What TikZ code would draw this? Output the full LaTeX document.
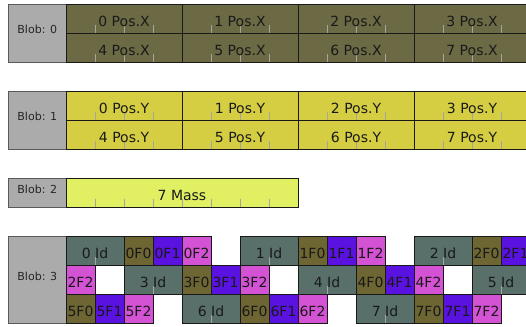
\documentclass[tikz,border=0pt]{standalone}
\usepackage{fontspec}
\setmainfont{DejaVu Sans}
\definecolor{blobgray}{HTML}{ABABAB}
\definecolor{posx}{HTML}{6B6A45}
\definecolor{posy}{HTML}{D5CE43}
\definecolor{mass}{HTML}{E0F062}
\definecolor{idc}{HTML}{587069}
\definecolor{fzero}{HTML}{6D6532}
\definecolor{fone}{HTML}{5A12E0}
\definecolor{ftwo}{HTML}{D452D4}
\definecolor{tickgray}{HTML}{A5A5A0}
\tikzset{
  cellbox/.style={draw=black!90, line width=0.75pt, inner sep=0pt, outer sep=0pt, anchor=north west, minimum height=21.75pt},
  celltext/.style={font=\fontsize{10.5}{12}\selectfont, text=black!90, inner sep=0pt},
  blobbox/.style={draw=black!65, fill=blobgray, line width=0.9pt, anchor=north west, minimum width=43.8pt, inner sep=0pt},
  blobtext/.style={font=\fontsize{8.3}{10}\selectfont, text=black!85, inner sep=0pt},
  tickline/.style={draw=tickgray, line width=0.75pt},
}
% #1 name, #2 x px, #3 y px, #4 units, #5 colour, #6 text
\newcommand\bcell[6]{%
  \node[cellbox, fill=#5, minimum width=#4*21.75pt] (#1) at (#2,#3) {};
  \ifnum#4>1
    \pgfmathtruncatemacro\nmt{#4-1}%
    \foreach \k in {1,...,\nmt}{\draw[tickline] ([xshift=\k*21.75pt]#1.south west) -- ++(0,-8.5);}
  \fi
  \node[celltext] (#1t) at ([yshift=-1.9pt]#1.center) {#6};
}
% #1 name, #2 y px, #3 height px, #4 text
\newcommand\blob[4]{%
  \node[blobbox, minimum height=#3*0.75pt] (#1) at (7.5,#2) {};
  \node[blobtext] (#1t) at ([yshift=3pt]#1.center) {#4};
}
\begin{document}
\begin{tikzpicture}[x=0.75pt, y=-0.75pt]
\clip (0,0) rectangle (526,326);
\fill[white] (0,0) rectangle (526,326);
% Blob 0
\blob{b0}{4}{58}{Blob: 0}
\bcell{px0}{66}{4}{4}{posx}{0 Pos.X}
\bcell{px1}{182}{4}{4}{posx}{1 Pos.X}
\bcell{px2}{298}{4}{4}{posx}{2 Pos.X}
\bcell{px3}{414}{4}{4}{posx}{3 Pos.X}
\bcell{px4}{66}{33}{4}{posx}{4 Pos.X}
\bcell{px5}{182}{33}{4}{posx}{5 Pos.X}
\bcell{px6}{298}{33}{4}{posx}{6 Pos.X}
\bcell{px7}{414}{33}{4}{posx}{7 Pos.X}
% Blob 1
\blob{b1}{91}{58}{Blob: 1}
\bcell{py0}{66}{91}{4}{posy}{0 Pos.Y}
\bcell{py1}{182}{91}{4}{posy}{1 Pos.Y}
\bcell{py2}{298}{91}{4}{posy}{2 Pos.Y}
\bcell{py3}{414}{91}{4}{posy}{3 Pos.Y}
\bcell{py4}{66}{120}{4}{posy}{4 Pos.Y}
\bcell{py5}{182}{120}{4}{posy}{5 Pos.Y}
\bcell{py6}{298}{120}{4}{posy}{6 Pos.Y}
\bcell{py7}{414}{120}{4}{posy}{7 Pos.Y}
% Blob 2
\blob{b2}{178}{29}{Blob: 2}
\bcell{m7}{66}{178}{8}{mass}{7 Mass}
% Blob 3
\blob{b3}{236}{87}{Blob: 3}
% row 1
\bcell{id0}{66}{236}{2}{idc}{0 Id}
\bcell{f00}{124}{236}{1}{fzero}{0F0}
\bcell{f01}{153}{236}{1}{fone}{0F1}
\bcell{f02}{182}{236}{1}{ftwo}{0F2}
\bcell{id1}{240}{236}{2}{idc}{1 Id}
\bcell{f10}{298}{236}{1}{fzero}{1F0}
\bcell{f11}{327}{236}{1}{fone}{1F1}
\bcell{f12}{356}{236}{1}{ftwo}{1F2}
\bcell{id2}{414}{236}{2}{idc}{2 Id}
\bcell{f20}{472}{236}{1}{fzero}{2F0}
\bcell{f21}{501}{236}{1}{fone}{2F1}
% row 2
\bcell{f22}{66}{265}{1}{ftwo}{2F2}
\bcell{id3}{124}{265}{2}{idc}{3 Id}
\bcell{f30}{182}{265}{1}{fzero}{3F0}
\bcell{f31}{211}{265}{1}{fone}{3F1}
\bcell{f32}{240}{265}{1}{ftwo}{3F2}
\bcell{id4}{298}{265}{2}{idc}{4 Id}
\bcell{f40}{356}{265}{1}{fzero}{4F0}
\bcell{f41}{385}{265}{1}{fone}{4F1}
\bcell{f42}{414}{265}{1}{ftwo}{4F2}
\bcell{id5}{472}{265}{2}{idc}{5 Id}
% row 3
\bcell{f50}{66}{294}{1}{fzero}{5F0}
\bcell{f51}{95}{294}{1}{fone}{5F1}
\bcell{f52}{124}{294}{1}{ftwo}{5F2}
\bcell{id6}{182}{294}{2}{idc}{6 Id}
\bcell{f60}{240}{294}{1}{fzero}{6F0}
\bcell{f61}{269}{294}{1}{fone}{6F1}
\bcell{f62}{298}{294}{1}{ftwo}{6F2}
\bcell{id7}{356}{294}{2}{idc}{7 Id}
\bcell{f70}{414}{294}{1}{fzero}{7F0}
\bcell{f71}{443}{294}{1}{fone}{7F1}
\bcell{f72}{472}{294}{1}{ftwo}{7F2}
\end{tikzpicture}
\end{document}
